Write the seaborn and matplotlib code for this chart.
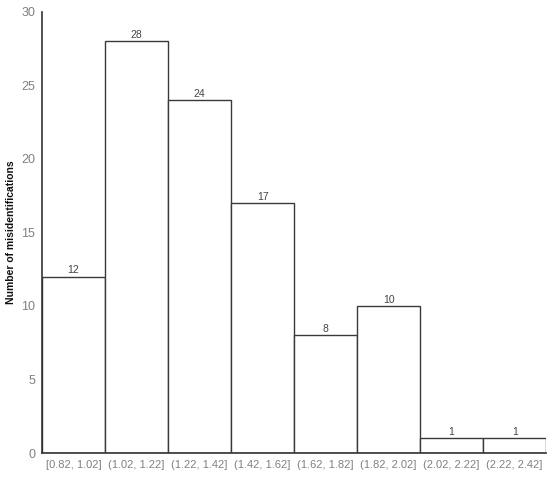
import matplotlib
matplotlib.use("Agg")
import matplotlib.pyplot as plt
import seaborn as sns
import pandas as pd

bins = ["[0.82, 1.02]", "(1.02, 1.22]", "(1.22, 1.42]", "(1.42, 1.62]",
        "(1.62, 1.82]", "(1.82, 2.02]", "(2.02, 2.22]", "(2.22, 2.42]"]
counts = [12, 28, 24, 17, 8, 10, 1, 1]

sns.set_theme(style="white")
plt.rcParams['font.family'] = ['Liberation Sans', 'DejaVu Sans']

df = pd.DataFrame({"bin": bins, "count": counts})

fig = plt.figure(figsize=(5.5, 4.78), dpi=100)
ax = fig.add_axes([0.0764, 0.0523, 0.9166, 0.9226])

sns.barplot(data=df, x="bin", y="count", width=1.0, color="white",
            edgecolor="#3a3a3a", linewidth=1.0, ax=ax)

for c in ax.containers:
    ax.bar_label(c, fontsize=7.5, color="#444444", padding=1)

ax.set_xlim(-0.5, len(bins) - 0.5)
ax.set_ylim(0, 30)
ax.set_yticks([0, 5, 10, 15, 20, 25, 30])
ax.tick_params(axis="both", length=0, labelcolor="#808080", pad=5)
ax.tick_params(axis="y", labelsize=9)
ax.tick_params(axis="x", labelsize=8)
ax.set_xlabel("")
ax.set_ylabel("Number of misidentifications", fontsize=7.5, fontweight="bold",
              color="#111111", labelpad=4)

for s in ["top", "right"]:
    ax.spines[s].set_visible(False)
for s in ["left", "bottom"]:
    ax.spines[s].set_color("#333333")
    ax.spines[s].set_linewidth(1.2)

fig.savefig("out.png", dpi=100)
